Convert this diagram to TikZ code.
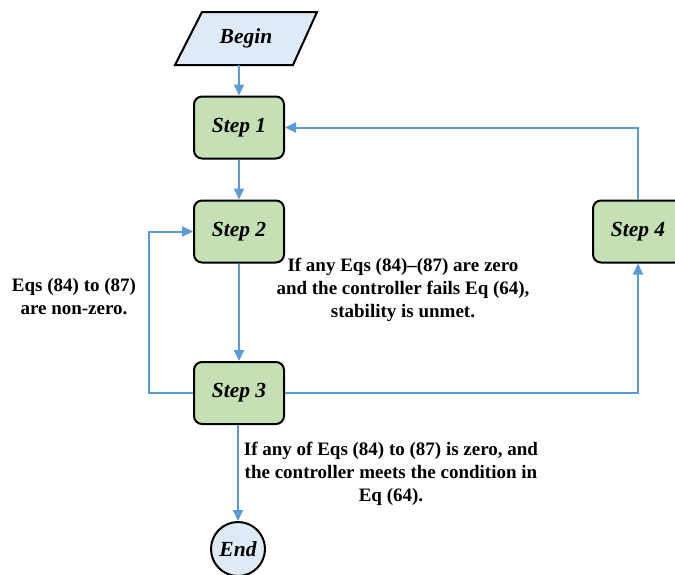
\documentclass[tikz,border=0pt]{standalone}
\usepackage{fontspec}
\setmainfont{Liberation Serif}
\usetikzlibrary{arrows.meta}
\definecolor{lineblue}{RGB}{91,155,213}
\definecolor{boxgreen}{RGB}{197,224,180}
\definecolor{lightblue}{RGB}{222,235,247}
\tikzset{
  stepbox/.style={draw=black, line width=2pt, fill=boxgreen, rounded corners=8pt,
    minimum width=90pt, minimum height=62pt, inner sep=0pt,
    font=\fontsize{21.5}{24}\selectfont\bfseries\itshape},
  conn/.style={draw=lineblue, line width=2pt},
  arr/.style={conn, -{Triangle[length=11pt,width=10pt]}},
  note/.style={align=center, font=\fontsize{19}{23}\selectfont\bfseries, inner sep=0pt},
}
\begin{document}
\begin{tikzpicture}[x=1pt, y=-1pt]
\useasboundingbox (0,0) rectangle (675,574);
\begin{scope}
\clip (0,0) rectangle (675,574);
% Begin parallelogram
\draw[line width=2pt, fill=lightblue] (202,12) -- (317,12) -- (293,65) -- (175,65) -- cycle;
\node[minimum width=90pt, minimum height=53pt, inner sep=0pt,
  font=\fontsize{21.5}{24}\selectfont\bfseries\itshape] (begin) at (246,38.5) {Begin};
\node[stepbox] (step1) at (239,127.5) {Step 1};
\node[stepbox] (step2) at (239,231.5) {Step 2};
\node[stepbox] (step3) at (239,393) {Step 3};
\node[stepbox] (step4) at (638,231.5) {Step 4};
\node[draw=black, line width=2pt, fill=lightblue, circle, minimum size=54pt, inner sep=0pt,
  font=\fontsize{21.5}{24}\selectfont\bfseries\itshape] (end) at (238,549) {End};
\coordinate (lft) at (149,393);

\draw[arr] (begin.south -| step1.north) -- (step1.north);
\draw[arr] (step1) -- (step2);
\draw[arr] (step2) -- (step3);
\draw[arr] (step3.south -| end.north) -- (end.north);
\draw[arr] (step3.west) -- (lft) |- (step2.west);
\draw[arr] (step3.east) -| (step4.south);
\draw[arr] (step4.north) |- (step1.east);

\node[note] (t1) at (403,290) {If any Eqs (84)--(87) are zero\\and the controller fails Eq (64),\\stability is unmet.};
\node[note] (t2) at (74,297) {Eqs (84) to (87)\\are non-zero.};
\node[note] (t3) at (391,474) {If any of Eqs (84) to (87) is zero, and\\the controller meets the condition in\\Eq (64).};
\end{scope}
\end{tikzpicture}
\end{document}
